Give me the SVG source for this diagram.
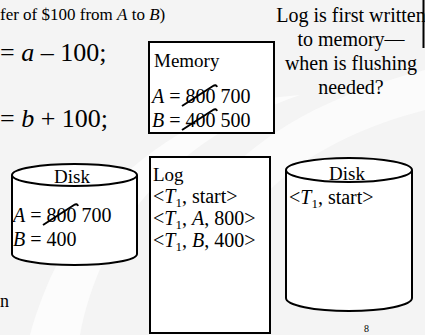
<svg xmlns="http://www.w3.org/2000/svg" width="425" height="335" viewBox="0 0 425 335">
<style>
text{font-family:"Liberation Serif","Times New Roman",serif;fill:#000}
.i{font-style:italic}
.box{fill:#fff;stroke:#000;stroke-width:2}
.cyl{fill:#fff;stroke:#000;stroke-width:2}
.strike{fill:none;stroke:#000;stroke-width:2}
.sub{font-size:13px}
.t{font-size:20px}
.n{font-size:20px;text-anchor:middle}
</style>
<rect x="0" y="0" width="425" height="335" fill="#f4f4f4"/>
<path d="M150,335 C170,220 230,120 425,70 L425,110 C270,150 210,240 200,335 Z" fill="#fbfbfb"/>
<path d="M30,335 C60,230 120,150 250,100 L300,95 C170,140 100,230 80,335 Z" fill="#fcfcfc"/>
<text x="0" y="20" font-size="17">fer of $100 from <tspan class="i">A</tspan> to <tspan class="i">B</tspan>)</text>
<text x="0" y="61" font-size="26">= <tspan class="i">a</tspan> – 100;</text>
<text x="0" y="127" font-size="26">= <tspan class="i">b</tspan> + 100;</text>
<g id="memory">
<rect class="box" x="149" y="42" width="125" height="91"/>
<text x="154" y="67" font-size="19">Memory</text>
<text x="152" y="103" class="t"><tspan class="i">A</tspan> = 800 700</text>
<text x="152" y="127" class="t"><tspan class="i">B</tspan> = 400 500</text>
<path class="strike" d="M182,106 L213,86 q3,-2 4,1"/>
<path class="strike" d="M182,130 L213,110 q3,-2 4,1"/>
</g>
<g id="note">
<text x="351" y="22" class="n">Log is first written</text>
<text x="351" y="46" class="n">to memory—</text>
<text x="351" y="70" class="n">when is flushing</text>
<text x="351" y="94" class="n">needed?</text>
</g>
<line x1="423.5" y1="0" x2="423.5" y2="48" stroke="#000" stroke-width="2"/>
<g id="disk1">
<path class="cyl" d="M12,175 L12,254 A62.5,11 0 0 0 137,254 L137,175"/>
<ellipse class="cyl" cx="74.5" cy="175" rx="62.5" ry="11"/>
<text x="72" y="183" font-size="19" text-anchor="middle">Disk</text>
<text x="13" y="222" class="t"><tspan class="i">A</tspan> = 800 700</text>
<text x="13" y="246" class="t"><tspan class="i">B</tspan> = 400</text>
<path class="strike" d="M43,225 L74,205 q3,-2 4,1"/>
</g>
<g id="log">
<rect class="box" x="150" y="157" width="120" height="176"/>
<text x="153" y="181" font-size="19">Log</text>
<text x="153" y="203" class="t">&lt;<tspan class="i">T</tspan><tspan class="sub" dy="4">1</tspan><tspan dy="-4">, start&gt;</tspan></text>
<text x="153" y="225" class="t">&lt;<tspan class="i">T</tspan><tspan class="sub" dy="4">1</tspan><tspan dy="-4">, </tspan><tspan class="i">A</tspan>, 800&gt;</text>
<text x="153" y="247" class="t">&lt;<tspan class="i">T</tspan><tspan class="sub" dy="4">1</tspan><tspan dy="-4">, </tspan><tspan class="i">B</tspan>, 400&gt;</text>
</g>
<g id="disk2">
<path class="cyl" d="M286,170 L286,298 A63,13 0 0 0 412,298 L412,170"/>
<ellipse class="cyl" cx="349" cy="170" rx="63" ry="12"/>
<text x="347" y="180" font-size="19" text-anchor="middle">Disk</text>
<text x="289" y="204" class="t">&lt;<tspan class="i">T</tspan><tspan class="sub" dy="4">1</tspan><tspan dy="-4">, start&gt;</tspan></text>
</g>
<text x="0" y="307" font-size="18">n</text>
<text x="364" y="332" font-size="10">8</text>
</svg>
